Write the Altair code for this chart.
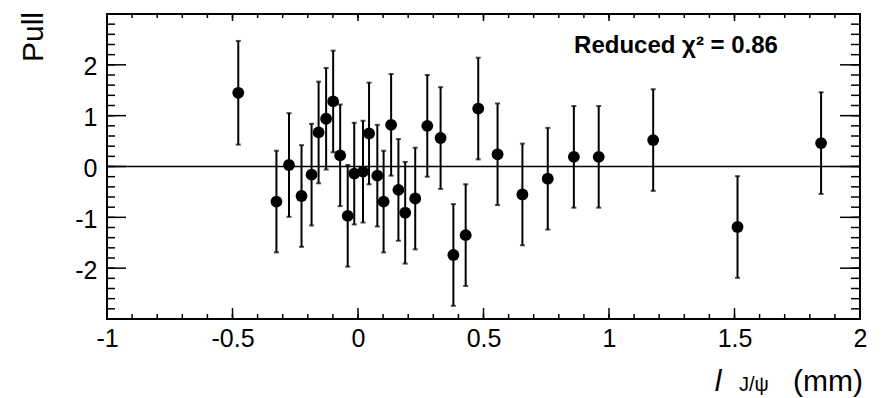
import altair as alt
import pandas as pd

# ---- data ----
x_vals = [-0.477, -0.325, -0.275, -0.225, -0.185, -0.157, -0.127, -0.099,
          -0.071, -0.041, -0.015, 0.020, 0.044, 0.077, 0.102, 0.132,
          0.161, 0.188, 0.228, 0.276, 0.329, 0.380, 0.429, 0.479,
          0.556, 0.655, 0.756, 0.860, 0.959, 1.176, 1.512, 1.845]
pull = [1.45, -0.69, 0.03, -0.58, -0.16, 0.67, 0.94, 1.28,
        0.22, -0.97, -0.14, -0.10, 0.65, -0.18, -0.69, 0.82,
        -0.46, -0.91, -0.63, 0.80, 0.56, -1.74, -1.35, 1.14,
        0.24, -0.55, -0.24, 0.19, 0.19, 0.52, -1.19, 0.46]
err = [1.02, 1.0, 1.02, 1.0, 1.0, 1.0, 1.0, 1.0,
       1.0, 1.0, 1.0, 1.0, 1.0, 1.0, 1.0, 1.0,
       1.0, 1.0, 1.0, 1.0, 1.0, 1.0, 1.0, 1.0,
       1.0, 1.0, 1.0, 1.0, 1.0, 1.0, 1.0, 1.0]

x_major = [-1, -0.5, 0, 0.5, 1, 1.5, 2]
x_minor = [round(-1 + 0.1 * i, 2) for i in range(31)]
y_major = [-3, -2, -1, 0, 1, 2, 3]
y_minor = [round(-3 + 0.2 * i, 2) for i in range(31)]
y_labels = [-2, -1, 0, 1, 2]

chi_text = "Reduced \u03c7\u00b2 = 0.86"
y_title = "Pull"

W, H = 753, 305
FONT = "Liberation Sans"

df = pd.DataFrame({"x": x_vals, "y": pull, "err": err})
df["lo"] = df["y"] - df["err"]
df["hi"] = df["y"] + df["err"]

xscale = alt.Scale(domain=[-1, 2], nice=False, zero=False)
yscale = alt.Scale(domain=[-3, 3], nice=False, zero=False)
xaxis = alt.Axis(values=x_major, labelExpr="'' + datum.value", ticks=False, tickSize=0,
                 domain=False, grid=False, labelPadding=7, labelFontSize=25,
                 labelFont=FONT, labelColor="black", labelFlush=False,
                 labelOverlap=False, labelBound=False, title=None)
yaxis = alt.Axis(values=y_labels, labelExpr="'' + datum.value", ticks=False, tickSize=0,
                 domain=False, grid=False, labelPadding=10, labelFontSize=25,
                 labelFont=FONT, labelColor="black", labelOffset=2,
                 labelOverlap=False, labelBound=False, title=None)

X = alt.X("x:Q", scale=xscale, axis=xaxis)
Y = alt.Y("y:Q", scale=yscale, axis=yaxis)

# zero line
zero = alt.Chart(pd.DataFrame({"y": [0]})).mark_rule(color="black", strokeWidth=1.6).encode(
    y=Y, x=alt.value(0), x2=alt.value(W))

# inward ticks
def xticks(vals, y0, y1):
    return alt.Chart(pd.DataFrame({"x": vals})).mark_rule(color="black", strokeWidth=1.5).encode(
        x=X, y=alt.value(y0), y2=alt.value(y1))

def yticks(vals, x0, x1):
    return alt.Chart(pd.DataFrame({"y": vals})).mark_rule(color="black", strokeWidth=1.5).encode(
        y=Y, x=alt.value(x0), x2=alt.value(x1))

tick_layers = [
    xticks(x_major, H, H - 11), xticks(x_minor, H, H - 5),
    xticks(x_major, 0, 7), xticks(x_minor, 0, 4),
    yticks(y_major, 0, 19), yticks(y_minor, 0, 8),
    yticks(y_major, W, W - 20), yticks(y_minor, W, W - 9),
]

bars = alt.Chart(df).mark_rule(color="black", strokeWidth=2).encode(
    x=X, y=alt.Y("lo:Q", scale=yscale, axis=yaxis), y2="hi:Q")
cap_lo = alt.Chart(df).mark_tick(color="black", orient="horizontal", size=5, thickness=2).encode(
    x=X, y=alt.Y("lo:Q", scale=yscale, axis=yaxis))
cap_hi = alt.Chart(df).mark_tick(color="black", orient="horizontal", size=5, thickness=2).encode(
    x=X, y=alt.Y("hi:Q", scale=yscale, axis=yaxis))
pts = alt.Chart(df).mark_circle(color="black", size=140, opacity=1).encode(x=X, y=Y)

chi = alt.Chart(pd.DataFrame({"t": [chi_text]})).mark_text(
    font=FONT, fontSize=24, fontWeight="bold", color="black", align="center",
    baseline="alphabetic").encode(x=alt.value(569), y=alt.value(39), text="t:N")

ytitle = alt.Chart(pd.DataFrame({"t": [y_title]})).mark_text(
    font=FONT, fontSize=30, color="black", align="center", baseline="alphabetic",
    angle=270).encode(x=alt.value(-64), y=alt.value(23), text="t:N")

xt_l = alt.Chart(pd.DataFrame({"t": ["l"]})).mark_text(
    font=FONT, fontSize=30, fontStyle="italic", color="black", align="center",
    baseline="alphabetic").encode(x=alt.value(611), y=alt.value(377), text="t:N")
xt_sub = alt.Chart(pd.DataFrame({"t": ["J/\u03c8"]})).mark_text(
    font=FONT, fontSize=20, color="black", align="left",
    baseline="alphabetic").encode(x=alt.value(632), y=alt.value(377), text="t:N")
xt_mm = alt.Chart(pd.DataFrame({"t": ["(mm)"]})).mark_text(
    font=FONT, fontSize=30, color="black", align="right",
    baseline="alphabetic").encode(x=alt.value(756), y=alt.value(377), text="t:N")

chart = alt.layer(
    zero, *tick_layers, bars, cap_lo, cap_hi, pts, chi, ytitle, xt_l, xt_sub, xt_mm
).properties(
    width=W, height=H,
    autosize=alt.AutoSizeParams(type="none"),
    padding={"left": 107, "top": 14, "right": 23, "bottom": 79},
    background="white",
).configure_view(stroke="black", strokeWidth=2)

chart.save("out.html", embed_options={"renderer": "svg", "actions": False})
